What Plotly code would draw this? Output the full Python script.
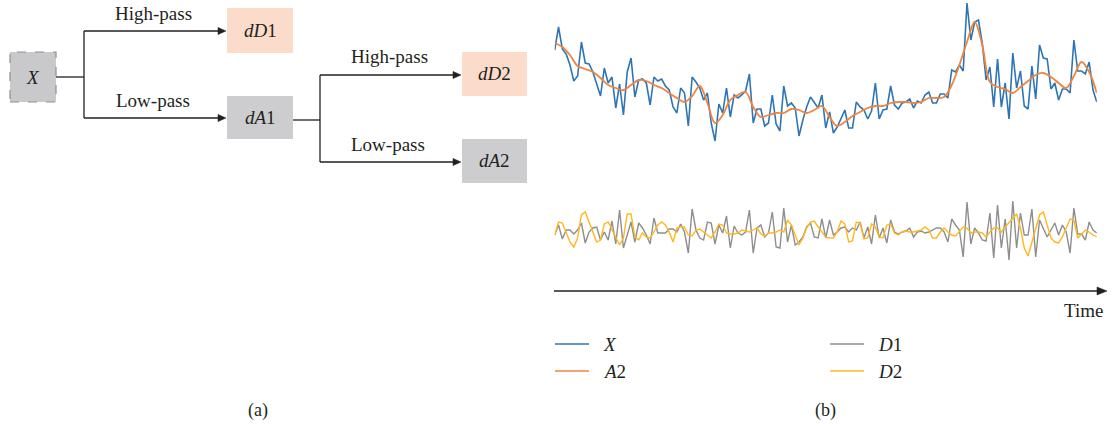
import plotly.graph_objects as go

W, H = 1115, 428
FONT = "Liberation Serif"
INK = "#231F20"

# ---------------- data ----------------
time_idx = list(range(143))

x_series = [
    100, 123, 101, 96, 85, 69, 74, 108, 87, 86, 78, 67, 54, 82, 67, 73, 42, 66, 35, 78,
    92, 53, 70, 71, 67, 45, 73, 69, 71, 64, 60, 43, 37, 62, 57, 24, 73, 68, 62, 50,
    57, 27, 9, 46, 37, 62, 33, 55, 52,
    55, 59, 76, 27, 41, 41, 24, 27, 55, 26, 19, 64, 44, 47, 42, 14, 30, 43, 53, 47,
    42, 55, 22, 38, 17, 23, 31, 40, 22, 22, 48, 43, 40, 31, 39, 67, 31, 40, 41, 64,
    45, 41, 47, 48, 51, 42, 49, 47,
    55, 58, 47, 47, 56, 56, 52, 80, 78, 85, 79, 147, 110, 128, 130, 107, 70, 83, 43, 91,
    43, 67, 31, 97, 62, 79, 44, 41, 84, 51, 105, 92, 91, 61, 67, 50, 61, 61, 57, 110,
    79, 79, 76, 88, 60, 48,
]

a2_time = list(range(0, 143, 2))
a2_series = [
    107, 103, 95, 84, 81, 78, 72, 65, 62, 60, 65, 70, 69, 65, 62, 57, 52, 48, 54, 64,
    47, 27, 35, 50, 55,
    58, 43, 33, 35, 37, 37, 41, 40, 37, 40, 44, 33, 24, 28, 34, 38, 42, 44, 44, 47,
    48, 48, 47, 48,
    52, 52, 53, 65, 85, 108, 128, 105, 68, 63, 61, 57, 63, 69, 75, 77, 73, 67, 62, 74,
    88, 78, 57,
]

d1_series = [
    -3, 7, -7, 2, 2, -2, 2, 9, -11, 0, 4, 5, -8, 0, -8, 11, -12, 22, -16, -3,
    10, -10, 9, 4, -3, -12, 14, -1, -1, -1, 3, 3, 0, 8, 0, -21, 23, 2, -6, -8,
    10, 9, -12, 7, -1, 16, -16, 6, -1, -3, 0, 22, -21, 4, 7, -5, -1, 20, -15, -16,
    24, -10, 7, -13, -10, -5, 5, 9, -5, -6, 13, -6,
    12, -3, 0, 4, 5, 0, 4, 2, 10, -6, 5, -12, 17, -6, 4, -11, 12, 0, -2, 0,
    1, 4, -5, 0, 1, -1, 0, 2, 4, 4, 0, -10, 13, 7, 2, -25, 30, -12, 4, -1,
    -8, -9, 19, -26, 27, -16, 13, -28, 31, -16, 19, -3, -3, 23, -25, 12, 4, -5, 2, 9,
    -3, 7, 0, -21, 24, -2, -2, -8, 10, 2, -1,
]

d2_series = [
    -3, 10, 9, -1, -10, -15, -6, 17, 20, 10, 0, -10, -8, 8, 10, 2, -6, -13, -6, 18,
    18, -5, -8, -1, -5, -6, 0, 7, 10, 7, 0, -10, 4, 5, 5, -3, -4, 2, 3, 0,
    -3, -6, 0, 8, 7, -1, -2, -2, -1, 2, 1, 0, 2, 4, -2, -4, -1, -1, 0, 2,
    0, 12, 7, -3, -13, -6, 4, 10, 11, 5, 0, -5,
    -6, -6, 0, 11, 8, -10, -9, 10, 9, -7, -6, 8, 5, -5, -6, 7, 8, -1, -3, 0,
    1, 0, 0, 1, 2, 5, 2, -6, -6, 0, 4, 0, -3, -4, 1, 5, 4, -1, 0, 0,
    -1, -5, 0, 4, 4, 0, 5, 9, 14, 18, 4, -16, -24, -11, 4, 17, 20, 7, -6, -10,
    -11, -5, 4, 13, 12, -6, -2, 2, 0, -3, -5,
]

series_names = ["<i>X</i>", "<i>A</i>2", "<i>D</i>1", "<i>D</i>2"]
series_colors = ["#2E75B6", "#F0843F", "#8E8E8E", "#FFB81C"]
node_labels = ["<i>X</i>", "<i>dD</i>1", "<i>dA</i>1", "<i>dD</i>2", "<i>dA</i>2"]
filter_labels = ["High-pass", "Low-pass"]
panel_labels = ["(a)", "(b)"]
axis_label = "Time"


# ---------------- helpers: pixel -> paper ----------------
def px(x):
    return x / W


def py(y):
    return 1 - y / H


shapes = []
annotations = []


def line(x0, y0, x1, y1, color=INK, width=1.3, dash=None):
    d = dict(type="line", xref="paper", yref="paper",
             x0=px(x0), y0=py(y0), x1=px(x1), y1=py(y1),
             line=dict(color=color, width=width))
    if dash:
        d["line"]["dash"] = dash
    shapes.append(d)


def arrow_head(xtip, y, length=8, half=3.6, color=INK):
    path = "M {},{} L {},{} L {},{} Z".format(
        px(xtip), py(y), px(xtip - length), py(y - half), px(xtip - length), py(y + half))
    shapes.append(dict(type="path", xref="paper", yref="paper", path=path,
                       fillcolor=color, line=dict(color=color, width=0.5)))


def box(x0, y0, x1, y1, fill, border=None, dash=None):
    d = dict(type="rect", xref="paper", yref="paper",
             x0=px(x0), y0=py(y1), x1=px(x1), y1=py(y0), fillcolor=fill,
             line=dict(width=0), layer="below")
    if border:
        d["line"] = dict(color=border, width=1.2, dash=dash or "solid")
    shapes.append(d)


def text(x, y, s, size=19, xanchor="center", yanchor="middle"):
    annotations.append(dict(x=px(x), y=py(y), xref="paper", yref="paper", text=s,
                            showarrow=False, xanchor=xanchor, yanchor=yanchor,
                            font=dict(family=FONT, size=size, color=INK)))


# ---------------- panel (a): decomposition diagram ----------------
PEACH = "#FBDCCB"
GREY = "#CDCDCF"

box(10, 52, 56, 102, "#C9C9CB", border="#8F8F8F", dash="dash")
text(33, 77, node_labels[0])

line(56, 77, 84, 77)
line(84, 31, 84, 118)
line(84, 31, 220, 31)
arrow_head(226, 31)
line(84, 118, 220, 118)
arrow_head(226, 118)
text(153, 14, filter_labels[0])
text(153, 100, filter_labels[1])

box(227, 8, 293, 53, PEACH)
text(260, 31, node_labels[1])
box(227, 96, 293, 139, GREY)
text(260, 117, node_labels[2])

line(293, 120, 320, 120)
line(320, 75, 320, 162)
line(320, 75, 455, 75)
arrow_head(461, 75)
line(320, 162, 455, 162)
arrow_head(461, 162)
text(389, 57, filter_labels[0])
text(388, 144, filter_labels[1])

box(462, 52, 527, 96, PEACH)
text(494, 74, node_labels[3])
box(462, 139, 527, 183, GREY)
text(494, 161, node_labels[4])

text(258, 410, panel_labels[0], size=18)

# ---------------- panel (b): signals ----------------
fig = go.Figure()
fig.add_trace(go.Scatter(x=time_idx, y=x_series, mode="lines",
                         line=dict(color=series_colors[0], width=1.6),
                         xaxis="x", yaxis="y", showlegend=False))
fig.add_trace(go.Scatter(x=a2_time, y=a2_series, mode="lines",
                         line=dict(color=series_colors[1], width=1.8, shape="spline", smoothing=1.0),
                         xaxis="x", yaxis="y", showlegend=False))
fig.add_trace(go.Scatter(x=time_idx, y=d1_series, mode="lines",
                         line=dict(color=series_colors[2], width=1.4),
                         xaxis="x", yaxis="y2", showlegend=False))
fig.add_trace(go.Scatter(x=time_idx, y=d2_series, mode="lines",
                         line=dict(color=series_colors[3], width=1.4),
                         xaxis="x", yaxis="y2", showlegend=False))

# time arrow
line(554, 291, 1099, 291)
arrow_head(1107, 291, length=10, half=4)
text(1105, 310, axis_label, xanchor="right")

# legend (hand drawn, two columns)
legend_pos = [(555, 344), (555, 371), (830, 344), (830, 371)]
for name, col, (lx, ly) in zip(series_names, series_colors, legend_pos):
    line(lx, ly, lx + 34, ly, color=col, width=1.6)
    text(lx + 46, ly, name, xanchor="left")

text(825, 410, panel_labels[1], size=18)

fig.update_layout(
    width=W, height=H,
    margin=dict(l=0, r=0, t=0, b=0),
    paper_bgcolor="white", plot_bgcolor="rgba(0,0,0,0)",
    xaxis=dict(domain=[554.7 / W, 1096.8 / W], range=[0, 142], visible=False),
    yaxis=dict(domain=[1 - 150 / H, 1], range=[0, 150], visible=False),
    yaxis2=dict(domain=[1 - 270 / H, 1 - 195 / H], range=[-38, 37], visible=False, anchor="x"),
    shapes=shapes,
    annotations=annotations,
    showlegend=False,
)

fig.write_html("out.html")
